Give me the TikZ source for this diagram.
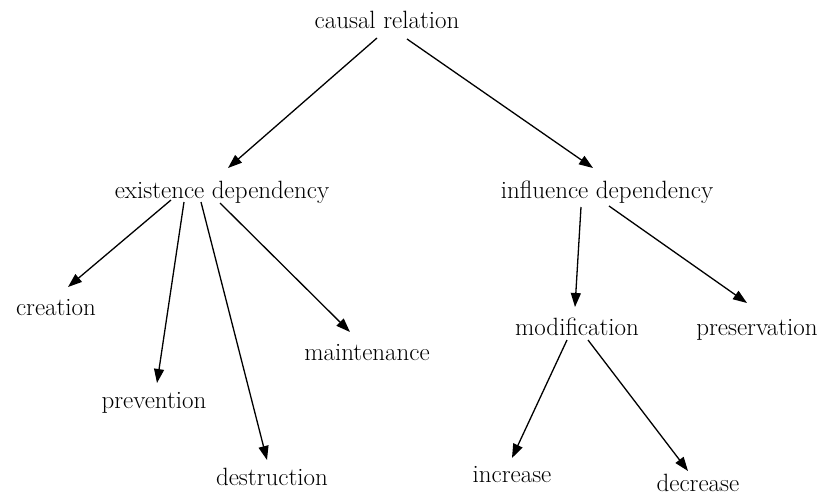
\documentclass[tikz,border=0pt]{standalone}
\usetikzlibrary{arrows.meta}

\begin{document}
\begin{tikzpicture}[x=1pt,y=-1pt,
	term/.style={anchor=base,inner sep=0pt,font=\fontsize{25}{30}\selectfont},
	arr/.style={line width=1.3pt,-{Triangle[length=14pt,width=10pt]}}]

	\useasboundingbox (0,0) rectangle (828,498);

	% labels
	\node[term] (cr) at (387,28) {causal relation};
	\node[term] (ed) at (222,198) {existence dependency};
	\node[term] (id) at (607,198) {influence dependency};
	\node[term] (cre) at (56,315) {creation};
	\node[term] (prv) at (154,408) {prevention};
	\node[term] (dst) at (272,485) {destruction};
	\node[term] (mnt) at (367,360) {maintenance};
	\node[term] (mod) at (577,335) {modification};
	\node[term] (prs) at (757,335) {preservation};
	\node[term] (inc) at (512,482) {increase};
	\node[term] (dec) at (698,491) {decrease};

	% causal relation
	\draw[arr] ([shift={(-10,10)}]cr.base) -- ([shift={(6,-30)}]ed.base);
	\draw[arr] ([shift={(20,11)}]cr.base) -- ([shift={(-14,-30)}]id.base);

	% existence dependency
	\draw[arr] ([shift={(-51,2)}]ed.base) -- ([shift={(12,-28)}]cre.base);
	\draw[arr] ([shift={(-38,4)}]ed.base) -- ([shift={(3,-25)}]prv.base);
	\draw[arr] ([shift={(-21,4)}]ed.base) -- ([shift={(-5,-25)}]dst.base);
	\draw[arr] ([shift={(-2,5)}]ed.base) -- ([shift={(-17,-28)}]mnt.base);

	% influence dependency
	\draw[arr] ([shift={(-26,9)}]id.base) -- ([shift={(-2,-28)}]mod.base);
	\draw[arr] ([shift={(2,8)}]id.base) -- ([shift={(-10,-32)}]prs.base);

	% modification
	\draw[arr] ([shift={(-10,5)}]mod.base) -- ([shift={(0,-24)}]inc.base);
	\draw[arr] ([shift={(11,5)}]mod.base) -- ([shift={(-10,-20)}]dec.base);

\end{tikzpicture}
\end{document}
